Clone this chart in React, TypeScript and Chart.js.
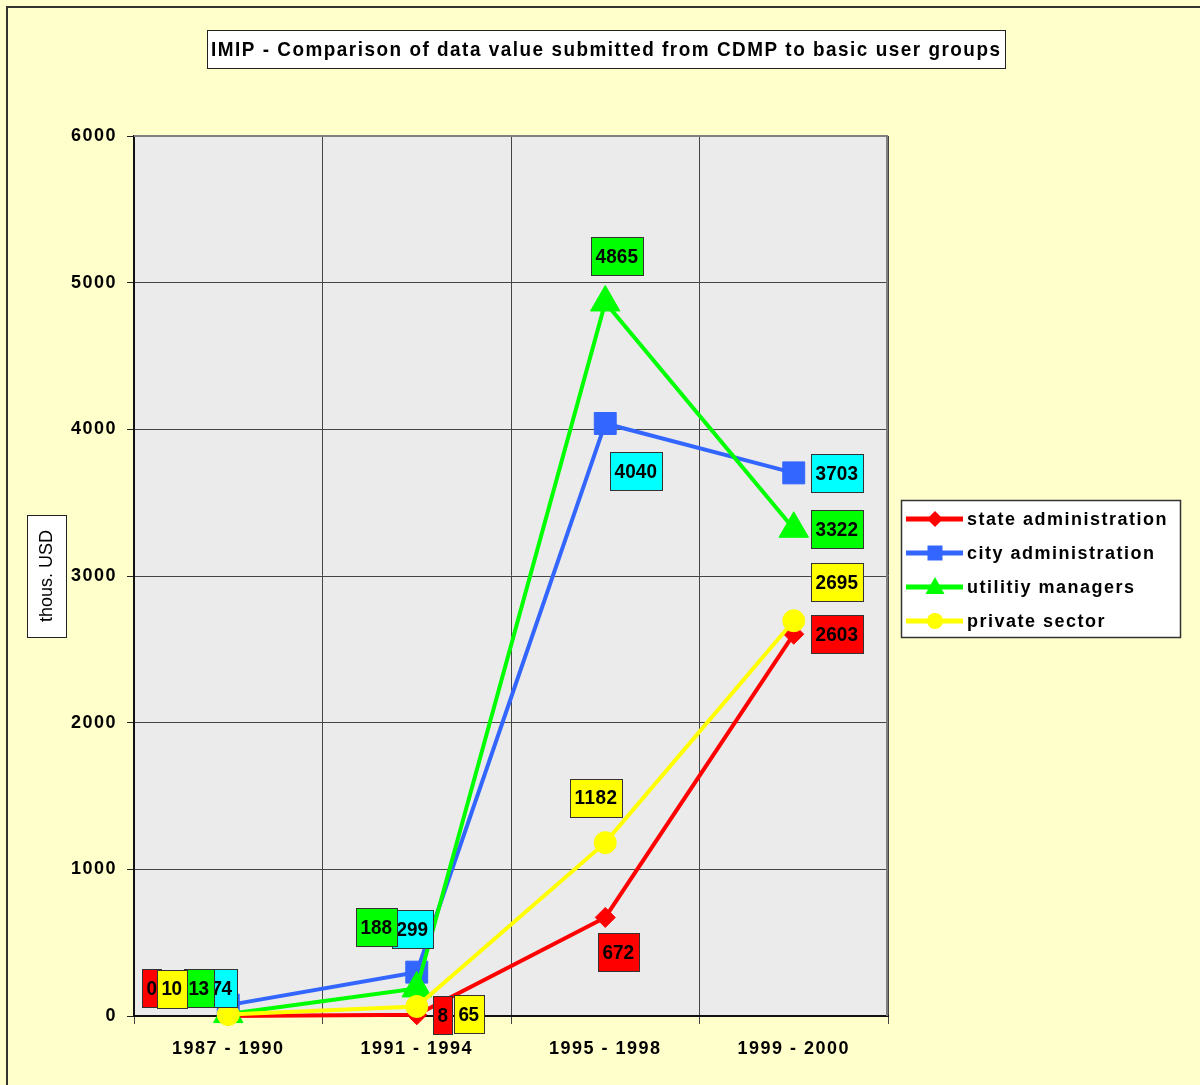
import React, { useEffect, useRef } from "react";
import { Chart, registerables } from "chart.js";

Chart.register(...registerables);

const categories = ["1987 - 1990", "1991 - 1994", "1995 - 1998", "1999 - 2000"];
const seriesNames = ["state administration", "city administration", "utilitiy managers", "private sector"];
const stateAdmin = [0, 8, 672, 2603];
const cityAdmin = [74, 299, 4040, 3703];
const utilityManagers = [13, 188, 4865, 3322];
const privateSector = [10, 65, 1182, 2695];
const yMin = 0;
const yMax = 6000;
const yStep = 1000;
const titleText = "IMIP - Comparison of data value submitted from CDMP to basic user groups";
const yTitle = "thous. USD";

// styles
const lineColors = ["#FF0000", "#3366FF", "#00FF00", "#FFFF00"];
const labelBg = ["#FF0000", "#00FFFF", "#00FF00", "#FFFF00"];
const pointStyles = ["rectRot", "rect", "triangle", "circle"];
const pointRadii = [10, 15.5, 17, 11];
// label box offsets (px) from each point
const labelOffsets = [
  [[-77, -28], [25, 0], [13, 35], [43, 0]],
  [[-7, -17], [-5, -43], [30, 48], [43, 0]],
  [[-30, -26], [-41, -61], [11, -46], [43, 0]],
  [[-57, -26], [52, 8], [-10, -45], [43, -39]],
];

const SANS = "'Liberation Sans', Arial, sans-serif";

// draw condensed text (horizontal scale) left-aligned from x, fitted to target width
function condensedText(ctx: CanvasRenderingContext2D, text: string, x: number, y: number, sx: number, target: number) {
  ctx.save();
  (ctx as any).letterSpacing = "0px";
  const w = ctx.measureText(text).width * sx;
  const sp = (target - w) / Math.max(1, text.length - 1);
  ctx.translate(x, y);
  ctx.scale(sx, 1);
  (ctx as any).letterSpacing = sp / sx + "px";
  ctx.textAlign = "left";
  ctx.fillText(text, 0, 0);
  ctx.restore();
}

function drawMarker(ctx: CanvasRenderingContext2D, style: string, x: number, y: number, s: number) {
  ctx.beginPath();
  if (style === "rectRot") {
    ctx.moveTo(x - s, y); ctx.lineTo(x, y - s); ctx.lineTo(x + s, y); ctx.lineTo(x, y + s); ctx.closePath();
  } else if (style === "rect") {
    ctx.rect(x - s, y - s, 2 * s, 2 * s);
  } else if (style === "triangle") {
    ctx.moveTo(x, y - s); ctx.lineTo(x + s * 0.95, y + s * 0.7); ctx.lineTo(x - s * 0.95, y + s * 0.7); ctx.closePath();
  } else {
    ctx.arc(x, y, s, 0, Math.PI * 2);
  }
  ctx.fill();
}

const decorPlugin = {
  id: "decor",
  beforeDraw(chart: any) {
    const ctx: CanvasRenderingContext2D = chart.ctx;
    const a = chart.chartArea;
    ctx.save();
    ctx.fillStyle = "#FFFFCC";
    ctx.fillRect(0, 0, chart.width, chart.height);
    ctx.fillStyle = "#333333";
    ctx.fillRect(6, 6, chart.width - 6, 2);
    ctx.fillRect(6, 6, 2, chart.height - 6);
    ctx.fillStyle = "#ebebeb";
    ctx.fillRect(a.left, a.top, a.right - a.left, a.bottom - a.top);
    // title
    ctx.fillStyle = "#ffffff";
    ctx.fillRect(207, 30, 798, 38);
    ctx.strokeStyle = "#222";
    ctx.lineWidth = 1;
    ctx.strokeRect(207.5, 30.5, 798, 38);
    ctx.fillStyle = "#000";
    ctx.font = "bold 21px " + SANS;
    ctx.textBaseline = "middle";
    condensedText(ctx, titleText, 211, 50, 0.9, 789);
    // y title
    ctx.fillStyle = "#ffffff";
    ctx.fillRect(27, 515, 39, 122);
    ctx.strokeRect(27.5, 515.5, 39, 122);
    ctx.translate(47, 576);
    ctx.rotate(-Math.PI / 2);
    ctx.fillStyle = "#000";
    ctx.font = "18px " + SANS;
    ctx.textAlign = "center";
    ctx.textBaseline = "middle";
    ctx.fillText(yTitle, 0, 0);
    ctx.restore();
    (ctx as any).letterSpacing = "1.5px";
  },
  beforeDatasetsDraw(chart: any) {
    const ctx: CanvasRenderingContext2D = chart.ctx;
    const a = chart.chartArea;
    ctx.save();
    (ctx as any).letterSpacing = "0px";
    ctx.strokeStyle = "#808080";
    ctx.lineWidth = 2;
    ctx.beginPath();
    ctx.moveTo(a.left, a.top);
    ctx.lineTo(a.right - 1, a.top);
    ctx.lineTo(a.right - 1, a.bottom);
    ctx.stroke();
    ctx.restore();
  },
  afterDatasetsDraw(chart: any) {
    const ctx: CanvasRenderingContext2D = chart.ctx;
    ctx.save();
    ctx.font = "bold 21px " + SANS;
    ctx.textBaseline = "middle";
    chart.data.datasets.forEach((ds: any, i: number) => {
      const meta = chart.getDatasetMeta(i);
      meta.data.forEach((pt: any, j: number) => {
        const txt = String(ds.data[j]);
        const tw = txt.length * 11 - 1.5;
        const w = tw + 9;
        const h = 38;
        const cx = pt.x + labelOffsets[i][j][0];
        const cy = pt.y + labelOffsets[i][j][1];
        const bx = Math.round(cx - w / 2);
        const by = Math.round(cy - h / 2);
        ctx.fillStyle = labelBg[i];
        ctx.fillRect(bx, by, Math.round(w), h);
        ctx.strokeStyle = "#333";
        ctx.lineWidth = 1;
        ctx.strokeRect(bx + 0.5, by + 0.5, Math.round(w), h);
        ctx.fillStyle = "#000";
        condensedText(ctx, txt, bx + 4.5, cy + 1, 0.9, tw);
      });
    });
    // legend
    (ctx as any).letterSpacing = "0px";
    ctx.fillStyle = "#fff";
    ctx.fillRect(901, 500, 279, 137);
    ctx.strokeStyle = "#333";
    ctx.lineWidth = 1.5;
    ctx.strokeRect(901.5, 500.5, 279, 137);
    ctx.font = "bold 18px " + SANS;
    ctx.textAlign = "left";
    (ctx as any).letterSpacing = "1.5px";
    seriesNames.forEach((name, i) => {
      const y = 519 + 34 * i;
      ctx.strokeStyle = lineColors[i];
      ctx.lineWidth = 5;
      ctx.beginPath();
      ctx.moveTo(906, y);
      ctx.lineTo(963, y);
      ctx.stroke();
      ctx.fillStyle = lineColors[i];
      const sizes = [8, 7.5, 10, 8];
      drawMarker(ctx, pointStyles[i], 935, y, sizes[i]);
      ctx.fillStyle = "#000";
      ctx.fillText(name, 967, y + 1);
    });
    ctx.restore();
  },
  afterDraw(chart: any) {
    (chart.ctx as any).letterSpacing = "0px";
  },
};

export default function App() {
  const ref = useRef<HTMLCanvasElement | null>(null);
  useEffect(() => {
    if (!ref.current) return;
    const series = [stateAdmin, cityAdmin, utilityManagers, privateSector];
    const chart = new Chart(ref.current, {
      type: "line",
      data: {
        labels: categories,
        datasets: series.map((d, i) => ({
          label: seriesNames[i],
          data: d,
          borderColor: lineColors[i],
          backgroundColor: lineColors[i],
          borderWidth: 4,
          pointStyle: pointStyles[i] as any,
          pointRadius: pointRadii[i],
          pointHoverRadius: pointRadii[i],
          pointBackgroundColor: lineColors[i],
          pointBorderColor: lineColors[i],
          pointBorderWidth: 1,
          tension: 0,
          fill: false,
          clip: false as any,
          order: 3 - i,
        })),
      },
      options: {
        responsive: false,
        animation: false,
        events: [],
        layout: { padding: { left: 0, top: 136, right: 312, bottom: 0 } },
        plugins: {
          legend: { display: false },
          title: { display: false },
          tooltip: { enabled: false },
        },
        scales: {
          x: {
            type: "category",
            offset: true,
            grid: { offset: true, color: "#444", lineWidth: 1, tickLength: 8, tickColor: "#444" },
            border: { color: "#111", width: 2 },
            ticks: { color: "#000", font: { family: SANS, size: 18, weight: "bold" }, padding: 14, maxRotation: 0 },
            afterFit: (s: any) => { s.height = 69; },
          },
          y: {
            min: yMin,
            max: yMax,
            grid: { color: "#444", lineWidth: 1, tickLength: 7, tickColor: "#222" },
            border: { color: "#111", width: 2 },
            ticks: {
              stepSize: yStep,
              color: "#000",
              font: { family: SANS, size: 18, weight: "bold" },
              padding: 10,
              callback: (v: any) => String(v),
            },
            afterFit: (s: any) => { s.width = 134; },
          },
        },
      },
      plugins: [decorPlugin],
    });
    return () => chart.destroy();
  }, []);
  return (
    <div style={{ position: "absolute", left: 0, top: 0, width: 1200, height: 1085 }}>
      <canvas ref={ref} width={1200} height={1085} style={{ width: 1200, height: 1085, display: "block" }} />
    </div>
  );
}
